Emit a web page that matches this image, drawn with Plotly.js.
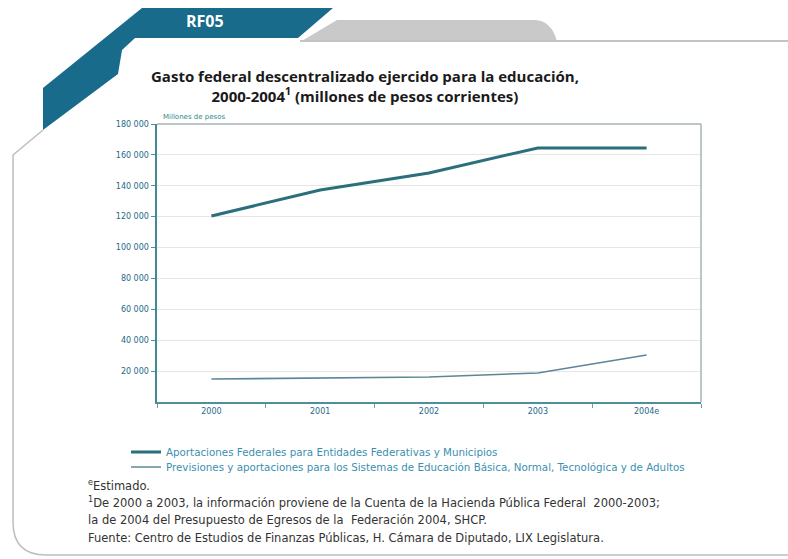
<!DOCTYPE html>
<html>
<head>
<meta charset="utf-8">
<script src="https://cdn.plot.ly/plotly-3.0.1.min.js"></script>
<style>
html,body{margin:0;padding:0;background:#ffffff;}
#chart{width:788px;height:559px;}
</style>
</head>
<body>
<div id="chart"></div>
<script>
// ---- data ----
var years = ["2000", "2001", "2002", "2003", "2004e"];
var aportaciones = [120400, 137300, 148300, 164500, 164500];
var previsiones = [14900, 15500, 16200, 18800, 30400];
var seriesNames = [
  "Aportaciones Federales para Entidades Federativas y Municipios",
  "Previsiones y aportaciones para los Sistemas de Educación Básica, Normal, Tecnológica y de Adultos"
];
var yTickVals = [20000, 40000, 60000, 80000, 100000, 120000, 140000, 160000, 180000];
var yTickText = ["20 000", "40 000", "60 000", "80 000", "100 000", "120 000", "140 000", "160 000", "180 000"];

// ---- geometry helpers (pixel -> paper) ----
var L = 157, R = 701, T = 124, B = 402, W = 788, H = 559;
function px(x){ return ((x - L) / (R - L)).toFixed(4); }
function py(y){ return ((B - y) / (B - T)).toFixed(4); }
function path(pts){
  return pts.map(function(p, i){
    if (p[0] === 'Q') return 'Q' + px(p[1]) + ',' + py(p[2]) + ' ' + px(p[3]) + ',' + py(p[4]);
    return (i === 0 ? 'M' : 'L') + px(p[0]) + ',' + py(p[1]);
  }).join(' ') ;
}

var teal = "#186b8b";
var shapes = [
  // gray tab
  {type:'path', xref:'paper', yref:'paper', layer:'below',
   path: path([[300,42],[337,20],[533,20],['Q',552,20,557,42]]) + ' Z',
   fillcolor:'#c9c9c9', line:{width:0}},
  // top frame line
  {type:'line', xref:'paper', yref:'paper', layer:'below',
   x0:px(300), y0:py(41), x1:px(788), y1:py(41), line:{color:'#c4c4c4', width:2}},
  // teal banner
  {type:'path', xref:'paper', yref:'paper', layer:'below',
   path: path([[142,8],[333,8],[298,38],[135,38],[122,50],[118,74],[43,130],[43,88]]) + ' Z',
   fillcolor:teal, line:{width:0}},
  // left / bottom frame
  {type:'path', xref:'paper', yref:'paper', layer:'below',
   path: path([[43,130],[13,155],[13,522],['Q',13,555,46,555],[788,555]]),
   fillcolor:'rgba(0,0,0,0)', line:{color:'#bdbdbd', width:1.5}},
  // top and right plot border
  {type:'line', xref:'paper', yref:'paper', x0:0, y0:1, x1:1, y1:1, line:{color:'#a9b3b8', width:1.5}},
  {type:'line', xref:'paper', yref:'paper', x0:1, y0:0, x1:1, y1:1, line:{color:'#a9b3b8', width:1.5}}
];

var noteFont = {family:'DejaVu Sans, sans-serif', size:11.5, color:'#333333'};
var annotations = [
  {xref:'paper', yref:'paper', x:px(205), y:py(21), xanchor:'center', yanchor:'middle',
   text:'<b>RF05</b>', showarrow:false, font:{family:'Open Sans, sans-serif', size:16, color:'#ffffff'}},
  {xref:'paper', yref:'paper', x:px(365), y:py(86), xanchor:'center', yanchor:'middle',
   text:'<b>Gasto federal descentralizado ejercido para la educación,<br>2000-2004<sup>1</sup> (millones de pesos corrientes)</b>',
   showarrow:false, align:'center', font:{family:'Open Sans, sans-serif', size:15, color:'#1a1a1a'}},
  {xref:'paper', yref:'paper', x:px(161), y:py(117), xanchor:'left', yanchor:'middle',
   text:'Millones de pesos', showarrow:false, font:{family:'DejaVu Sans, sans-serif', size:7, color:'#2f8a8f'}},
  {xref:'paper', yref:'paper', x:px(86), y:py(485), xanchor:'left', yanchor:'middle',
   text:'<sup>e</sup>Estimado.', showarrow:false, font:noteFont},
  {xref:'paper', yref:'paper', x:px(86), y:py(503), xanchor:'left', yanchor:'middle',
   text:'<sup>1</sup>De 2000 a 2003, la información proviene de la Cuenta de la Hacienda Pública Federal  2000-2003;',
   showarrow:false, font:noteFont},
  {xref:'paper', yref:'paper', x:px(86), y:py(520), xanchor:'left', yanchor:'middle',
   text:'la de 2004 del Presupuesto de Egresos de la  Federación 2004, SHCP.',
   showarrow:false, font:noteFont},
  {xref:'paper', yref:'paper', x:px(86), y:py(538), xanchor:'left', yanchor:'middle',
   text:'Fuente: Centro de Estudios de Finanzas Públicas, H. Cámara de Diputado, LIX Legislatura.',
   showarrow:false, font:noteFont}
];

var traces = [
  {type:'scatter', mode:'lines', name:seriesNames[0], x:years, y:aportaciones,
   line:{color:'#2c6f7c', width:3}, legend:'legend'},
  {type:'scatter', mode:'lines', name:seriesNames[1], x:years, y:previsiones,
   line:{color:'#5a8896', width:1.6}, legend:'legend2'}
];

var legendFont = {family:'DejaVu Sans, sans-serif', size:10.3, color:'#3b8fb0'};
var tickFont = {family:'DejaVu Sans, sans-serif', size:8, color:'#25698a'};
var layout = {
  width:W, height:H,
  margin:{l:L, r:W-R, t:T, b:H-B, autoexpand:false},
  paper_bgcolor:'#ffffff', plot_bgcolor:'#ffffff',
  showlegend:true,
  font:{family:'DejaVu Sans, sans-serif', size:8, color:'#25698a'},
  xaxis:{type:'category', range:[-0.5, 4.5], showgrid:false, zeroline:false,
    ticks:'outside', tickson:'boundaries', ticklen:4, tickcolor:'#6b9ea6',
    showline:true, linecolor:'#4f8f9a', linewidth:2, mirror:false, tickfont:tickFont},
  yaxis:{range:[0,180000], tickvals:yTickVals, ticktext:yTickText,
    showgrid:true, gridcolor:'#e6e6e6', gridwidth:1, zeroline:false,
    ticks:'outside', ticklen:4, tickcolor:'#4f8f9a',
    showline:true, linecolor:'#3f8a94', linewidth:2.5, mirror:false, tickfont:tickFont},
  legend:{orientation:'v', x:Number(px(126)), y:Number(py(452)), xanchor:'left', yanchor:'middle',
    bgcolor:'rgba(0,0,0,0)', itemwidth:30, font:legendFont},
  legend2:{orientation:'v', x:Number(px(126)), y:Number(py(467)), xanchor:'left', yanchor:'middle',
    bgcolor:'rgba(0,0,0,0)', itemwidth:30, font:legendFont},
  shapes:shapes,
  annotations:annotations
};

Plotly.newPlot('chart', traces, layout, {displayModeBar:false, staticPlot:true});
</script>
</body>
</html>
